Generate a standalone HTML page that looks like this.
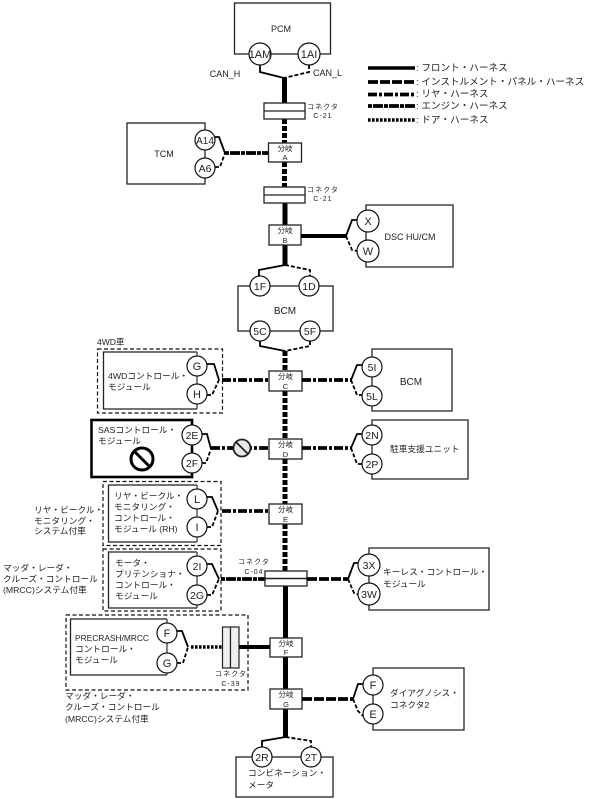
<!DOCTYPE html>
<html><head><meta charset="utf-8"><style>
html,body{margin:0;padding:0;background:#fff}
svg{display:block;filter:blur(0.3px)}
text{font-family:"Liberation Sans","Noto Sans CJK JP",sans-serif;fill:#222;font-size:8.7px}
.box{fill:#fff;stroke:#222;stroke-width:1.3}
.c{fill:#fff;stroke:#111;stroke-width:1.2}
.l{font-size:11px;text-anchor:middle}
.m{font-size:9px;text-anchor:middle}
.b{fill:#fff;stroke:#222;stroke-width:1.3}
.bt{font-size:7.5px;text-anchor:middle}
.ct{font-size:7px;text-anchor:middle;letter-spacing:1px}
.f{fill:none;stroke:#000;stroke-width:1.8}
.d{fill:none;stroke:#000;stroke-width:1.8;stroke-dasharray:4 2}
.ds{fill:none;stroke:#111;stroke-width:1.2;stroke-dasharray:4 2.5}
.s4{fill:none;stroke:#000;stroke-width:4}
.rear{fill:none;stroke:#000;stroke-width:3.8;stroke-dasharray:9 2 3 2}
.rv{fill:none;stroke:#000;stroke-width:5;stroke-dasharray:5 2}
.ip{fill:none;stroke:#000;stroke-width:3.8;stroke-dasharray:10 2}
.eng{fill:none;stroke:#000;stroke-width:3.8;stroke-dasharray:4 1 10 1}
.door{fill:none;stroke:#000;stroke-width:3.4;stroke-dasharray:2.6 1.4}
.lg{font-size:9.6px}
.t{stroke-width:5}
.k{font-size:10.5px}
</style></head><body>
<svg width="602" height="799" viewBox="0 0 602 799" xmlns="http://www.w3.org/2000/svg">
<rect width="602" height="799" fill="#fff"/>

<!-- Legend -->
<path d="M368 68H415" fill="none" stroke="#000" stroke-width="3.6"/>
<path d="M368 82H415" class="ip"/>
<path d="M368 94.5H415" class="rear"/>
<path d="M368 106H415" class="eng"/>
<path d="M368 120H415" class="door"/>
<text x="416" y="71" class="lg">: フロント・ハーネス</text>
<text x="416" y="85" class="lg">: インストルメント・パネル・ハーネス</text>
<text x="416" y="97" class="lg">: リヤ・ハーネス</text>
<text x="416" y="109" class="lg">: エンジン・ハーネス</text>
<text x="416" y="123" class="lg">: ドア・ハーネス</text>

<!-- Trunk -->
<path d="M284.500 78V103" class="s4 t"/>
<path d="M284.500 119V143M284.500 162V187" class="rv"/>
<path d="M285 203V225M285 245V265" class="s4 t"/>
<path d="M285 351V371M285 391V439M285 459V504M285 524V571" class="rv"/>
<path d="M285.500 586V638M285.500 657V689M285.500 709V737" class="s4 t"/>

<!-- PCM -->
<rect x="234.500" y="3" width="96" height="51" class="box"/>
<text x="281" y="32" class="m">PCM</text>
<path d="M260 65V72L284 78" class="f"/>
<path d="M309 65V72L284 78" class="d"/>
<circle cx="260" cy="54" r="11" class="c"/><text x="260" y="58" class="l">1AM</text>
<circle cx="309" cy="54" r="11" class="c"/><text x="309" y="58" class="l">1AI</text>
<text x="225" y="77" class="m">CAN_H</text>
<text x="313" y="76" style="font-size:9px">CAN_L</text>

<!-- C-21 upper -->
<rect x="264" y="103" width="41" height="16" class="b"/><path d="M264 111H305" stroke="#222" stroke-width="1.200"/>
<text x="323" y="109" class="ct">コネクタ</text><text x="323" y="118" class="ct">C-21</text>

<!-- A + TCM -->
<rect x="268.500" y="143" width="33" height="19" class="b"/>
<text x="285" y="151" class="bt">分岐</text><text x="285" y="160" class="bt">A</text>
<rect x="127" y="123" width="78" height="61" class="box"/>
<text x="164" y="157" class="m">TCM</text>
<path d="M215 137L219 137L225 153" class="f"/>
<path d="M215 167L220 167L225 153" class="d"/>
<path d="M225 153H268" class="eng"/>
<circle cx="205" cy="140" r="10" class="c"/><text x="205" y="144" class="l" style="font-size:10px">A14</text>
<circle cx="205" cy="168" r="10" class="c"/><text x="205" y="172" class="l k">A6</text>

<!-- C-21 lower -->
<rect x="264" y="187" width="41" height="16" class="b"/><path d="M264 195H305" stroke="#222" stroke-width="1.200"/>
<text x="323" y="192" class="ct">コネクタ</text><text x="323" y="201" class="ct">C-21</text>

<!-- B + DSC -->
<rect x="269" y="225" width="32" height="20" class="b"/>
<text x="285" y="233" class="bt">分岐</text><text x="285" y="243" class="bt">B</text>
<path d="M366 205H453V267H366Z" class="box"/>
<path d="M301 236H346" class="s4"/>
<path d="M346 236L352 220H358" class="f"/>
<path d="M346 236L352 250L358 251" class="d"/>
<circle cx="368" cy="221" r="11" class="c"/><text x="368" y="225" class="l">X</text>
<circle cx="368" cy="251" r="11" class="c"/><text x="368" y="255" class="l">W</text>
<text x="410" y="240" class="m">DSC HU/CM</text>

<!-- BCM mid -->
<path d="M285 265L259 270V278" class="f"/>
<path d="M285 265L310 270V278" class="d"/>
<rect x="238" y="286" width="95" height="45" class="box"/>
<text x="285" y="314" class="l" style="font-size:10px">BCM</text>
<circle cx="260" cy="286" r="10" class="c"/><text x="260" y="290" class="l k">1F</text>
<circle cx="309" cy="286" r="10" class="c"/><text x="309" y="290" class="l k">1D</text>
<circle cx="260" cy="331" r="10" class="c"/><text x="260" y="335" class="l k">5C</text>
<circle cx="310" cy="331" r="10" class="c"/><text x="310" y="335" class="l k">5F</text>
<path d="M260 341V346L285 351" class="f"/>
<path d="M310 341V346L285 351" class="d"/>

<!-- C row -->
<text x="97" y="345" style="font-size:8.5px">4WD車</text>
<rect x="97.500" y="349" width="125" height="64" class="ds"/>
<path d="M197 352H103.500V409H197" class="box"/>
<path d="M197 352V409" stroke="#333" stroke-width="1.200"/>
<text x="108" y="379">4WDコントロール・</text>
<text x="108" y="390">モジュール</text>
<path d="M207 364H214L219 380" class="f"/>
<path d="M207 395H212L219 380" class="d"/>
<path d="M222 380H269" class="rear"/>
<circle cx="197" cy="366" r="10" class="c"/><text x="197" y="370" class="l">G</text>
<circle cx="197" cy="394" r="10" class="c"/><text x="197" y="398" class="l">H</text>
<rect x="269" y="371" width="33" height="20" class="b"/>
<text x="285.500" y="379" class="bt">分岐</text><text x="285.500" y="389" class="bt">C</text>
<path d="M302 380H351" class="rear"/>
<path d="M351 380L357 365H362" class="f"/>
<path d="M351 380L357 395H362" class="d"/>
<path d="M372 349H452V411H372Z" class="box"/>
<circle cx="372" cy="367" r="10" class="c"/><text x="372" y="371" class="l k">5I</text>
<circle cx="372" cy="396" r="10" class="c"/><text x="372" y="400" class="l k">5L</text>
<text x="411" y="385" class="l" style="font-size:10px">BCM</text>

<!-- D row -->
<rect x="91.500" y="420" width="100.500" height="57" fill="#fff" stroke="#000" stroke-width="2.600"/>
<text x="98" y="433">SASコントロール・</text>
<text x="98" y="444">モジュール</text>
<circle cx="142" cy="459" r="11" fill="none" stroke="#000" stroke-width="3"/>
<path d="M134.500 451.500L149.500 466.500" stroke="#000" stroke-width="3"/>
<path d="M202 434H207L211 449" class="f"/>
<path d="M202 463H206L211 449" class="d"/>
<path d="M211 448H269" class="rear"/>
<circle cx="242" cy="448" r="8.500" fill="#e8e8e8" stroke="#222" stroke-width="1.800"/>
<path d="M236 442L248 454" stroke="#222" stroke-width="1.800"/>
<circle cx="192" cy="435" r="10" class="c"/><text x="192" y="439" class="l k">2E</text>
<circle cx="192" cy="463" r="10" class="c"/><text x="192" y="467" class="l k">2F</text>
<rect x="269" y="439" width="33" height="20" class="b"/>
<text x="285.500" y="447" class="bt">分岐</text><text x="285.500" y="457" class="bt">D</text>
<path d="M302 448H351" class="rear"/>
<path d="M351 448L357 434H362" class="f"/>
<path d="M351 448L357 464H362" class="d"/>
<path d="M372 420H468V479H372Z" class="box"/>
<circle cx="372" cy="435" r="10" class="c"/><text x="372" y="439" class="l k">2N</text>
<circle cx="372" cy="464" r="10" class="c"/><text x="372" y="468" class="l k">2P</text>
<text x="390" y="452">駐車支援ユニット</text>

<!-- E row -->
<rect x="103" y="481.500" width="118" height="64" class="ds"/>
<path d="M197 485H108.500V542H197" class="box"/>
<path d="M197 485V542" stroke="#333" stroke-width="1.200"/>
<text x="114" y="499">リヤ・ビークル・</text>
<text x="114" y="510">モニタリング・</text>
<text x="114" y="521">コントロール・</text>
<text x="114" y="532">モジュール (RH)</text>
<path d="M207 497H212L218 511" class="f"/>
<path d="M207 527H212L218 511" class="d"/>
<path d="M222 511H269" class="rear"/>
<circle cx="197" cy="499" r="10" class="c"/><text x="197" y="503" class="l">L</text>
<circle cx="197" cy="527" r="10" class="c"/><text x="197" y="531" class="l">I</text>
<rect x="269" y="504" width="33" height="20" class="b"/>
<text x="285.500" y="512" class="bt">分岐</text><text x="285.500" y="522" class="bt">E</text>
<text x="34" y="513">リヤ・ビークル・</text>
<text x="34" y="524">モニタリング・</text>
<text x="34" y="534">システム付車</text>

<!-- C-04 row -->
<rect x="103" y="549" width="118" height="62" class="ds"/>
<path d="M197 552H108.500V608H197" class="box"/>
<path d="M197 552V608" stroke="#333" stroke-width="1.200"/>
<text x="115" y="566">モータ・</text>
<text x="115" y="577">プリテンショナ・</text>
<text x="115" y="588">コントロール・</text>
<text x="115" y="599">モジュール</text>
<path d="M207 564H212L219 579" class="f"/>
<path d="M207 595H212L219 579" class="d"/>
<path d="M221 579H265" class="eng"/>
<circle cx="197" cy="566" r="10" class="c"/><text x="197" y="570" class="l k">2I</text>
<circle cx="197" cy="595" r="10" class="c"/><text x="197" y="599" class="l k">2G</text>
<text x="254" y="564" class="ct">コネクタ</text><text x="254" y="574" class="ct">C-04</text>
<rect x="265" y="571" width="42" height="15" class="b"/><path d="M265 578.500H307" stroke="#222" stroke-width="1.600"/>
<path d="M307 579H348" class="ip"/>
<path d="M348 579L354 563H360" class="f"/>
<path d="M348 579L354 593L360 595" class="d"/>
<path d="M369 548H489V610H369Z" class="box"/>
<circle cx="369" cy="565" r="11" class="c"/><text x="369" y="569" class="l k">3X</text>
<circle cx="369" cy="594" r="11" class="c"/><text x="369" y="598" class="l k">3W</text>
<text x="383" y="575">キーレス・コントロール・</text>
<text x="383" y="587">モジュール</text>
<text x="3" y="571">マッダ・レーダ・</text>
<text x="3" y="582">クルーズ・コントロール</text>
<text x="3" y="593">(MRCC)システム付車</text>

<!-- F row -->
<rect x="66" y="615" width="182" height="75" class="ds"/>
<path d="M167 619H70.500V675H167" class="box"/>
<path d="M167 619V675" stroke="#333" stroke-width="1.200"/>
<text x="75" y="641" style="font-size:8.4px">PRECRASH/MRCC</text>
<text x="75" y="652">コントロール・</text>
<text x="75" y="663">モジュール</text>
<path d="M177 631H182L188 647" class="f"/>
<path d="M177 663H183L188 647" class="d"/>
<path d="M191 647H222" class="door"/>
<circle cx="167" cy="633" r="10" class="c"/><text x="167" y="637" class="l">F</text>
<circle cx="167" cy="663" r="10" class="c"/><text x="167" y="667" class="l">G</text>
<rect x="222.500" y="627" width="8" height="41" fill="#eee" stroke="#222" stroke-width="1.200"/>
<rect x="230.500" y="627" width="8.500" height="41" fill="#eee" stroke="#222" stroke-width="1.200"/>
<path d="M239 647H270" class="s4"/>
<text x="231" y="676" class="ct">コネクタ</text><text x="231" y="686" class="ct">C-39</text>
<rect x="270" y="638" width="32" height="19" class="b"/>
<text x="286" y="646" class="bt">分岐</text><text x="286" y="655" class="bt">F</text>
<text x="65" y="699">マッダ・レーダ・</text>
<text x="65" y="710">クルーズ・コントロール</text>
<text x="65" y="722">(MRCC)システム付車</text>

<!-- G row -->
<rect x="270" y="689" width="32" height="20" class="b"/>
<text x="286" y="697" class="bt">分岐</text><text x="286" y="707" class="bt">G</text>
<path d="M302 699H353" class="ip"/>
<path d="M353 699L358 684H364" class="f"/>
<path d="M353 699L358 711L363 716" class="d"/>
<path d="M373 668H464V730H373Z" class="box"/>
<circle cx="373" cy="685" r="10" class="c"/><text x="373" y="689" class="l">F</text>
<circle cx="373" cy="714" r="10" class="c"/><text x="373" y="718" class="l">E</text>
<text x="390" y="696">ダイアグノシス・</text>
<text x="390" y="708">コネクタ2</text>

<!-- Combination meter -->
<path d="M285.500 737L262 741V749" class="f"/>
<path d="M285.500 737L311 741V749" class="d"/>
<rect x="236" y="757" width="97" height="40" class="box"/>
<circle cx="262" cy="757" r="10" class="c"/><text x="262" y="761" class="l k">2R</text>
<circle cx="311" cy="757" r="10" class="c"/><text x="311" y="761" class="l k">2T</text>
<text x="248" y="776">コンビネーション・</text>
<text x="248" y="788">メータ</text>
</svg>
</body></html>
